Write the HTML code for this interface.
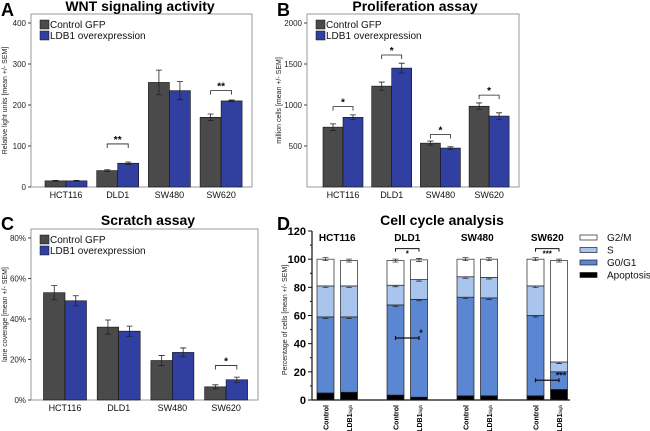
<!DOCTYPE html>
<html><head><meta charset="utf-8">
<style>
body{margin:0;background:#fff;}
svg{display:block;font-family:"Liberation Sans",Arial,sans-serif;}
</style></head>
<body>
<svg id="fig" width="650" height="431" viewBox="0 0 650 431"></svg>
<script>
// ---------- Panel A data ----------
const cellLines = ["HCT116","DLD1","SW480","SW620"];
const aControl = [15, 40, 255, 170];
const aControlErr = [1, 2, 30, 8];
const aLdb1 = [15, 58, 235, 210];
const aLdb1Err = [1, 3, 22, 2];
const aTicks = [0,100,200,300,400];
const aSig = [null, "**", null, "**"];
const aSigY = [null, 105, null, 235];
// ---------- Panel B data ----------
const bControl = [730, 1230, 535, 985];
const bControlErr = [40, 50, 25, 40];
const bLdb1 = [850, 1450, 475, 865];
const bLdb1Err = [30, 60, 15, 40];
const bTicks = [500,1000,1500,2000];
const bSig = ["*","*","*","*"];
const bSigY = [980, 1610, 640, 1120];
// ---------- Panel C data ----------
const cControl = [53, 36, 19.5, 6.5];
const cControlErr = [3.5, 3.5, 2.5, 1];
const cLdb1 = [49, 34, 23.5, 10];
const cLdb1Err = [2.5, 2.5, 2.2, 1.3];
const cTicks = [0,20,40,60,80];
const cSig = [null,null,null,"*"];
const cSigY = [null,null,null,17];
// ---------- Panel D data ----------
const dCategories = ["Control","LDB1"];
const dApoptosis = [[5,5.5],[3.5,2],[3,3],[3,7.5]];
const dG1Top = [[59,59],[67.5,71.5],[73,72.5],[60,20]];
const dSTop = [[81,81],[81.5,85.5],[87.5,87],[81,27]];
const dG2Top = [[100,99],[99,99.5],[100,100],[100,99]];
const dTicks = [0,20,40,60,80,100,120];
const dLegend = ["G2/M","S","G0/G1","Apoptosis"];

const NS="http://www.w3.org/2000/svg";
const svg=document.getElementById('fig');
function mk(tag,attrs,parent){const e=document.createElementNS(NS,tag);for(const k in attrs)e.setAttribute(k,attrs[k]);(parent||svg).appendChild(e);return e;}
function txt(s,attrs,parent){const e=mk('text',attrs,parent);e.textContent=s;return e;}

const GRAY="#4a4a4a", BLUE="#3140a0";

function barPanel(o){
  const g=mk('g',{});
  
  
  const y=v=>o.y0-(v-o.min)/(o.max-o.min)*(o.y0-o.yTop);
  const cx=i=>o.c0+i*o.step;
  const fr=mk('rect',{x:o.fx0,y:o.fy0,width:o.fx1-o.fx0,height:o.fy1-o.fy0,fill:'none',stroke:'#999','stroke-width':1},g);
  
  
  o.ticks.forEach(t=>{
    const ty=y(t);
    mk('line',{x1:o.fx0-3,x2:o.fx0,y1:ty,y2:ty,stroke:'#444'},g);
    const tl=txt(o.fmt(t),{x:o.fx0-5,y:ty+3,'font-size':8,'text-anchor':'end',fill:'#222'},g);
    
    
  });
  cellLines.forEach((c,i)=>{
    [[o.ctrl,o.ctrlErr,GRAY,-1],[o.ldb,o.ldbErr,BLUE,0]].forEach(([vals,errs,col,off],k)=>{
      const x=cx(i)+off*o.bw;
      const r=mk('rect',{x:x,y:y(vals[i]),width:o.bw,height:y(o.min)-y(vals[i]),fill:col,stroke:'#111','stroke-width':0.6},g);
      
      
      const ex=x+o.bw/2, t=y(vals[i]+errs[i]), b=y(vals[i]-errs[i]);
      mk('path',{d:`M${ex} ${t}V${b}M${ex-3} ${t}H${ex+3}M${ex-3} ${b}H${ex+3}`,stroke:'#222','stroke-width':0.8,fill:'none'},g);
    });
    const xl=txt(c,{x:cx(i),y:o.fy1+11,'font-size':9,'text-anchor':'middle',fill:'#111'},g);
    
    
    if(o.sig[i]){
      const by=y(o.sigY[i]);
      const bl=mk('path',{d:`M${cx(i)-o.bw/2} ${by+4}V${by}H${cx(i)+o.bw/2}V${by+4}`,stroke:'#222','stroke-width':0.8,fill:'none'},g);
      
      
      const st=txt(o.sig[i],{x:cx(i),y:by-1,'font-size':10,'font-weight':'bold','text-anchor':'middle'},g);
      
      
    }
  });
  const ti=txt(o.title,{x:o.tx,y:o.ty,'font-size':14,'font-weight':'bold','text-anchor':'middle'},g);
  
  
  const le=txt(o.letter,{x:o.lx,y:o.ly,'font-size':18,'font-weight':'bold'},g);
  
  
  const yt=txt(o.ytitle,{x:0,y:0,'font-size':7,'text-anchor':'middle',fill:'#222',transform:`translate(${o.ytx},${(o.fy0+o.fy1)/2}) rotate(-90)`},g);
  
  
  [["Control GFP",GRAY],["LDB1 overexpression",BLUE]].forEach(([n,col],k)=>{
    const lg=mk('g',{},g);
    
    
    mk('rect',{x:o.fx0+9,y:o.fy0+6+k*11,width:9,height:9,fill:col,stroke:'#111','stroke-width':0.5},lg);
    txt(n,{x:o.fx0+19,y:o.fy0+14+k*11,'font-size':10,fill:'#111'},lg);
  });
}

barPanel({name:'wnt-signaling-chart',title:'WNT signaling activity',letter:'A',lx:1,ly:16,tx:140,ty:11,
  fx0:31,fx1:252,fy0:14,fy1:187,y0:187,yTop:23,min:0,max:400,c0:66,step:51.7,bw:21,
  ticks:aTicks,fmt:t=>t,ctrl:aControl,ctrlErr:aControlErr,ldb:aLdb1,ldbErr:aLdb1Err,sig:aSig,sigY:aSigY,
  ytitle:'Relative light units [mean +/- SEM]',ytx:7});
barPanel({name:'proliferation-chart',title:'Proliferation assay',letter:'B',lx:277,ly:16,tx:415,ty:11,
  fx0:307,fx1:519,fy0:14,fy1:187,y0:187,yTop:23,min:0,max:2000,c0:343,step:48.7,bw:20,
  ticks:bTicks,fmt:t=>t,ctrl:bControl,ctrlErr:bControlErr,ldb:bLdb1,ldbErr:bLdb1Err,sig:bSig,sigY:bSigY,
  ytitle:'million cells [mean +/- SEM]',ytx:281});
barPanel({name:'scratch-assay-chart',title:'Scratch assay',letter:'C',lx:1,ly:230,tx:148,ty:225,
  fx0:31,fx1:258,fy0:229,fy1:400,y0:400,yTop:238,min:0,max:80,c0:65,step:53.7,bw:21.5,
  ticks:cTicks,fmt:t=>t+'%',ctrl:cControl,ctrlErr:cControlErr,ldb:cLdb1,ldbErr:cLdb1Err,sig:cSig,sigY:cSigY,
  ytitle:'lane coverage [mean +/- SEM]',ytx:7});

// ---------- Panel D ----------
(function(){
  const g=mk('g',{});
  
  
  const y0=400,yTop=231;
  const y=v=>y0-v/120*(y0-yTop);
  const ax=312, bw=17;
  const bx=(i,j)=>317+i*70+j*23.5;
  mk('line',{x1:ax,x2:ax,y1:yTop,y2:y0,stroke:'#111','stroke-width':1.2},g);
  mk('line',{x1:ax,x2:570,y1:y0,y2:y0,stroke:'#111','stroke-width':1.2},g);
  dTicks.forEach(t=>{
    mk('line',{x1:ax-4,x2:ax,y1:y(t),y2:y(t),stroke:'#111'},g);
    if(t<120) mk('line',{x1:ax-2,x2:ax,y1:y(t+10),y2:y(t+10),stroke:'#111'},g);
    const l=txt(t,{x:ax-6,y:y(t)+4,'font-size':11,'font-weight':'bold','text-anchor':'end'},g);
    
    
  });
  const yt=txt('Percentage of cells [mean +/- SEM]',{x:0,y:0,'font-size':7,'text-anchor':'middle',fill:'#222',transform:`translate(287,320) rotate(-90)`},g);
  
  
  const cols=["#000","#5b86d2","#a9c5ee","#fff"];
  cellLines.forEach((c,i)=>{
    const gl=txt(c,{x:bx(i,0)+(23.5+bw)/2,y:241,'font-size':10,'font-weight':'bold','text-anchor':'middle'},g);
    
    
    dCategories.forEach((cat,j)=>{
      const bounds=[0,dApoptosis[i][j],dG1Top[i][j],dSTop[i][j],dG2Top[i][j]];
      for(let s=0;s<4;s++){
        const r=mk('rect',{x:bx(i,j),y:y(bounds[s+1]),width:bw,height:y(bounds[s])-y(bounds[s+1]),fill:cols[s],stroke:'#222','stroke-width':0.7},g);
        
        
        if(s>0){const ex=bx(i,j)+bw/2,ey=y(bounds[s+1]);
          mk('path',{d:`M${ex-3} ${ey-1.5}H${ex+3}M${ex-3} ${ey+1.5}H${ex+3}M${ex} ${ey-1.5}V${ey+1.5}`,stroke:'#222','stroke-width':0.7},g);}
      }
      const xl=mk('text',{x:0,y:0,'font-size':7,'font-weight':'bold','text-anchor':'end',transform:`translate(${bx(i,j)+bw/2+3},405) rotate(-90)`},g);
      if(j==0){xl.textContent=cat;}else{xl.textContent='LDB1';const sp=mk('tspan',{'font-size':4.5,'font-weight':'normal'},xl);sp.textContent='high';}
      
      
    });
  });
  [[1,107.5,'*'],[3,107.5,'***']].forEach(([i,v,s])=>{
    const x1=bx(i,0)+bw/2,x2=bx(i,1)+bw/2,by=y(v);
    const b=mk('path',{d:`M${x1} ${by+3}V${by}H${x2}V${by+3}`,stroke:'#111','stroke-width':1,fill:'none'},g);
    
    
    txt(s,{x:(x1+x2)/2,y:by+8,'font-size':8,'font-weight':'bold','text-anchor':'middle'},g);
  });
  [[1,44,'*'],[3,14,'***']].forEach(([i,v,s])=>{
    const x1=bx(i,0)+bw/2,x2=bx(i,1)+bw/2,by=y(v);
    const b=mk('path',{d:`M${x1} ${by-2}V${by+2}M${x1} ${by}H${x2}M${x2} ${by-2}V${by+2}`,stroke:'#111','stroke-width':1.2,fill:'none'},g);
    
    
    txt(s,{x:x2+2,y:by-2,'font-size':9,'font-weight':'bold','text-anchor':'middle',fill:'#111'},g);
  });
  const ti=txt('Cell cycle analysis',{x:442,y:225,'font-size':14,'font-weight':'bold','text-anchor':'middle'},g);
  
  
  const le=txt('D',{x:277,y:230,'font-size':18,'font-weight':'bold'},g);
  
  
  dLegend.forEach((n,k)=>{
    const lg=mk('g',{},g);
    
    
    mk('rect',{x:580,y:235+k*12.5,width:17,height:5,fill:cols[3-k],stroke:'#222','stroke-width':0.7},lg);
    txt(n,{x:607,y:241+k*12.5,'font-size':10,fill:'#111'},lg);
  });
})();
</script>
</body></html>
